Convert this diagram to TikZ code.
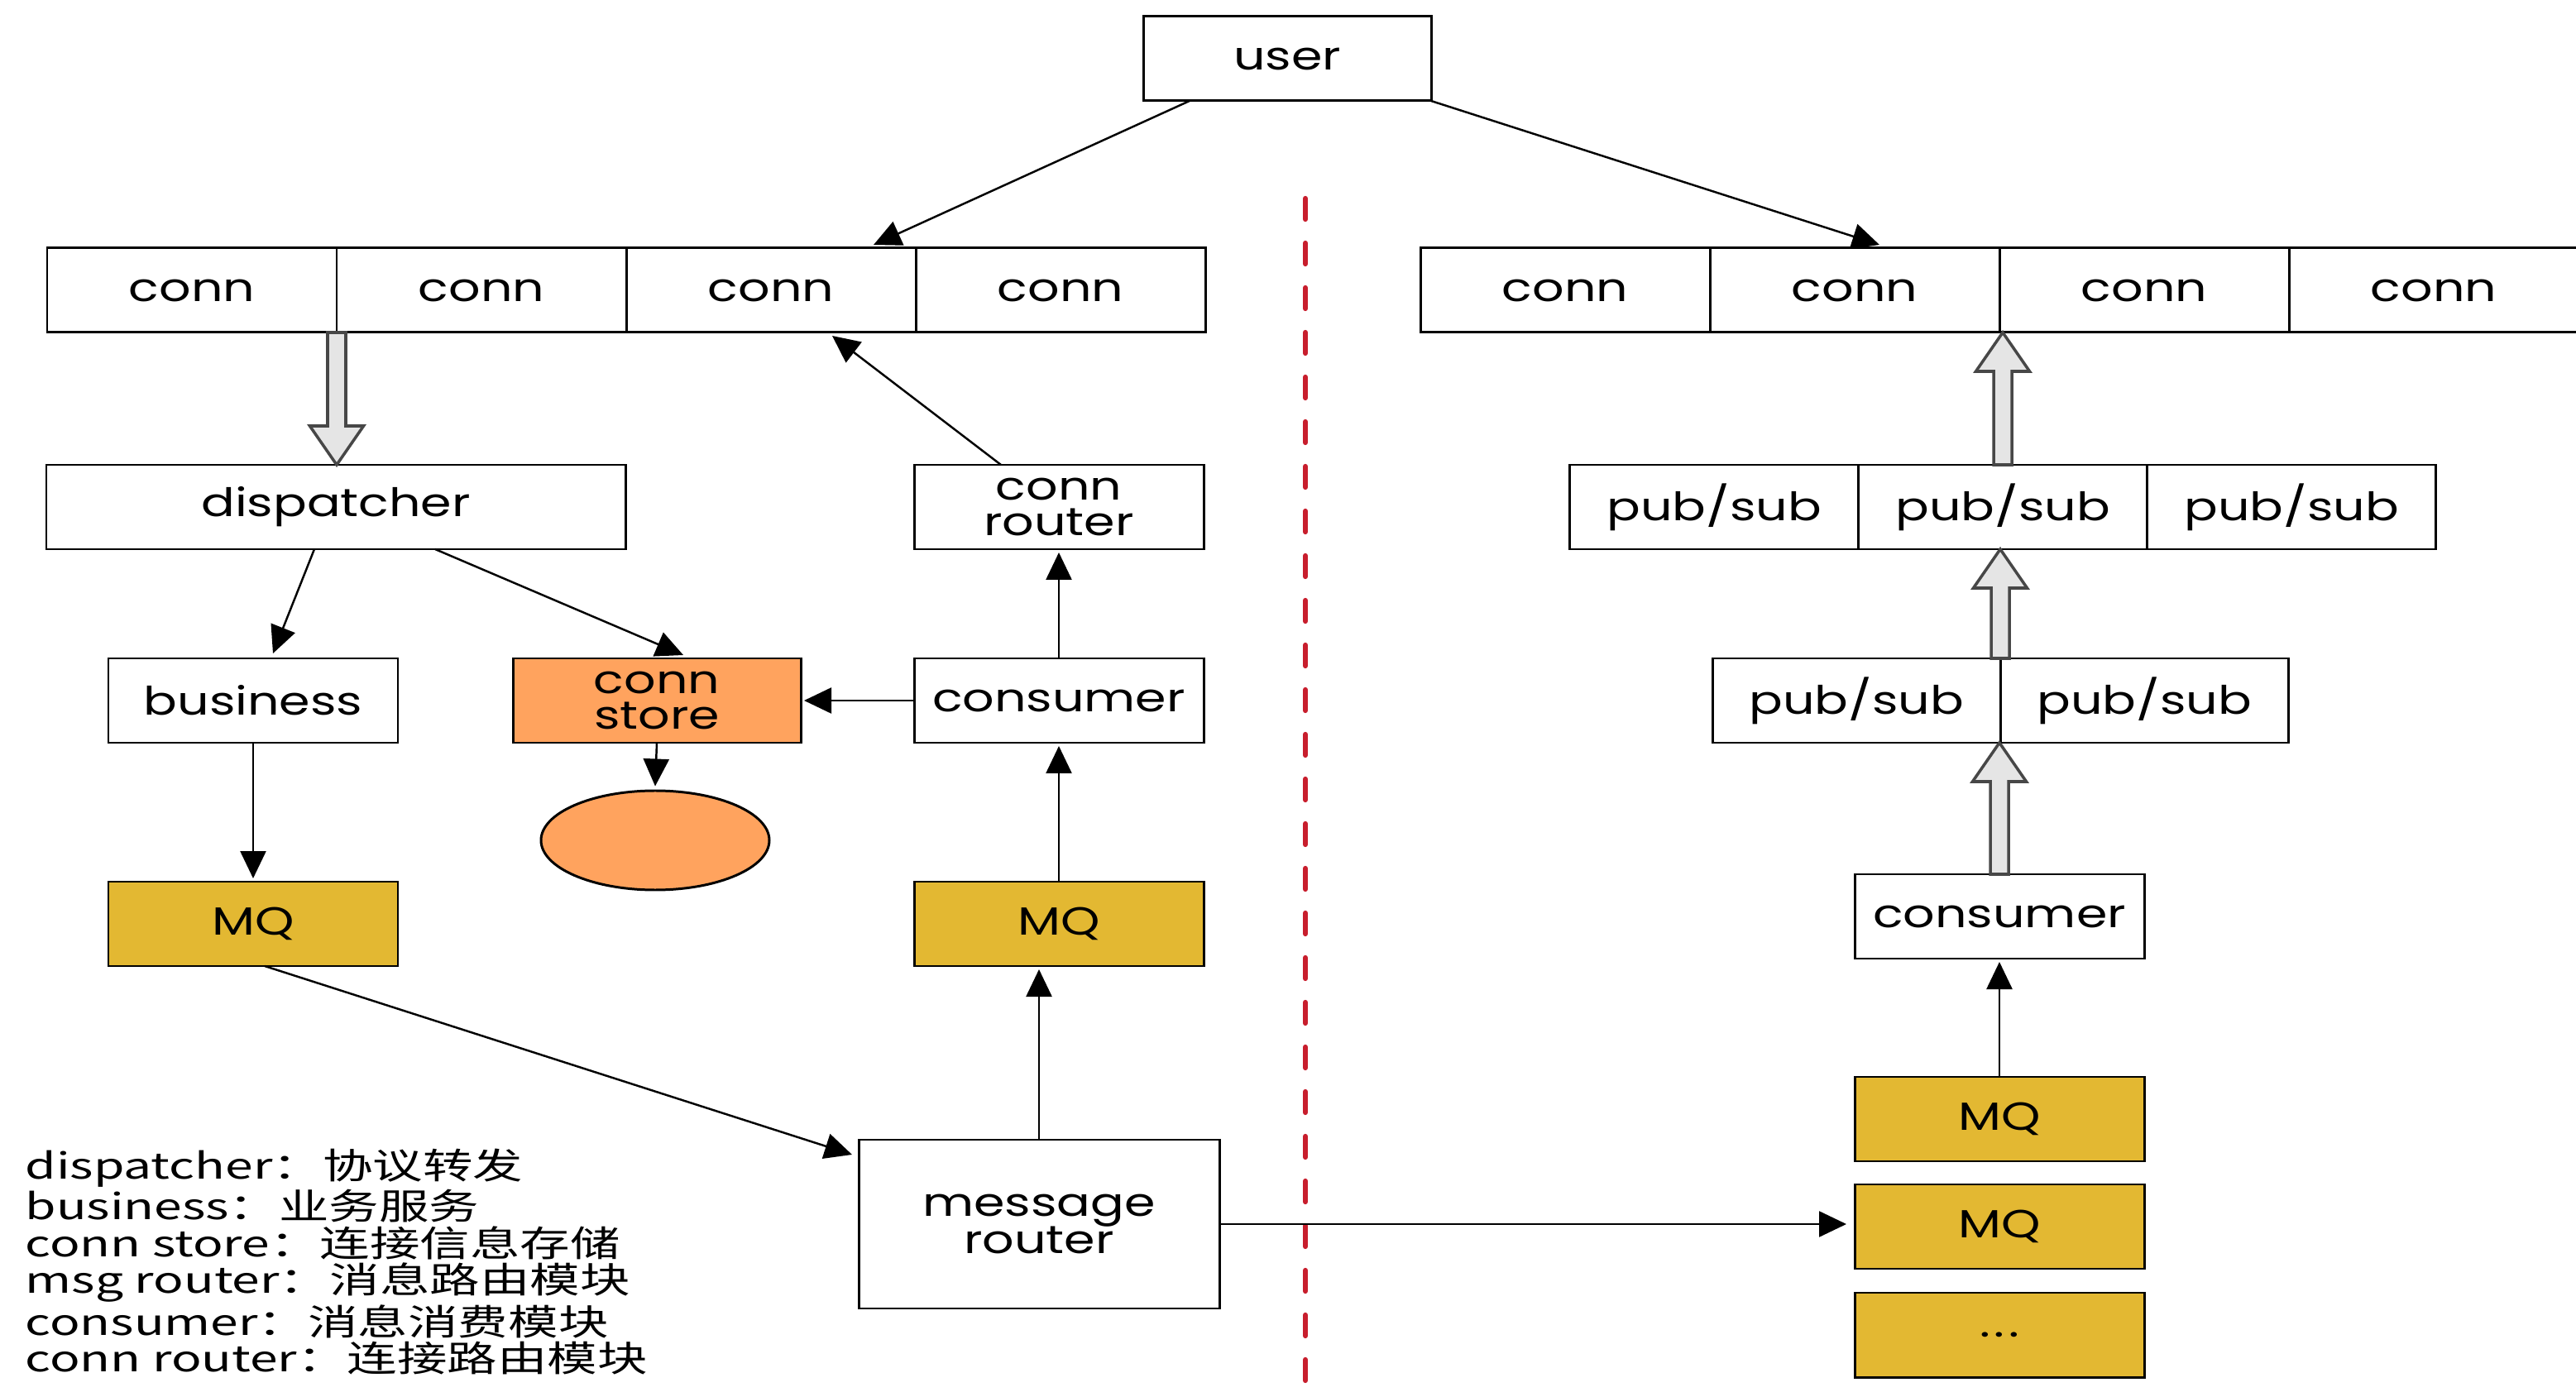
\documentclass[tikz,border=0pt]{standalone}
\usepackage{fontspec}
\setmainfont{Poppins}[FakeStretch=1.27]
\newfontfamily\cjk{Noto Sans CJK SC}[FakeStretch=1.4]
\usetikzlibrary{positioning,shapes,arrows.meta,calc}
\definecolor{mqgold}{RGB}{227,184,50}
\definecolor{storeorange}{RGB}{255,163,94}
\definecolor{splitred}{RGB}{200,30,45}
\tikzstyle{block} = [draw, line width=0.85pt, minimum width=3.5cm, minimum height=1.02cm, inner sep=0pt, outer sep=0pt, align=center, font=\fontsize{13.5}{12.5}\selectfont]
\tikzstyle{mq} = [block, fill=mqgold]
\tikzstyle{link} = [draw, line width=0.7pt, -{Triangle[length=0.33cm,width=0.31cm]}]
\tikzstyle{hollow} = [draw=black!72, fill=black!10, line width=1pt, line join=miter]
\newcommand{\fatarrow}[2]{%
  \draw[hollow] let \p1=(#1), \p2=(#2), \n1={\y2-sign(\y2-\y1)*0.47cm} in
    ({\x1-0.11cm},\y1) -- ({\x1-0.11cm},\n1) -- ({\x1-0.325cm},\n1) -- (\x1,\y2)
    -- ({\x1+0.325cm},\n1) -- ({\x1+0.11cm},\n1) -- ({\x1+0.11cm},\y1) -- cycle;}
\begin{document}
\begin{tikzpicture}
        \useasboundingbox (0,0) rectangle (31.14,16.82);
        %Blocks
        \node [block, minimum width=3.48cm] (user) at (15.56,16.11) {user};
        \node [block] (lc1) at (2.32,13.31) {conn};
        \node [block, right = 0cm of lc1] (lc2) {conn};
        \node [block, right = 0cm of lc2] (lc3) {conn};
        \node [block, right = 0cm of lc3] (lc4) {conn};
        \node [block] (rc1) at (18.92,13.31) {conn};
        \node [block, right = 0cm of rc1] (rc2) {conn};
        \node [block, right = 0cm of rc2] (rc3) {conn};
        \node [block, right = 0cm of rc3] (rc4) {conn};
        \node [block, minimum width=7cm] (dispatcher) at (4.06,10.69) {dispatcher};
        \node [block] (connrouter) at (12.8,10.69) {conn\\router};
        \node [block] (business) at (3.06,8.35) {business};
        \node [block, fill=storeorange, minimum width=3.48cm] (connstore) at (7.94,8.35) {conn\\store};
        \node [block] (consumerL) at (12.8,8.35) {consumer};
        \node [draw, line width=0.85pt, ellipse, fill=storeorange, minimum width=2.76cm, minimum height=1.2cm] (db) at (7.92,6.66) {};
        \node [mq] (mqL) at (3.06,5.65) {MQ};
        \node [mq] (mqM) at (12.8,5.65) {MQ};
        \node [block, minimum width=4.36cm, minimum height=2.04cm, font=\fontsize{13.5}{13}\selectfont] (msgrouter) at (12.56,2.02) {message\\router};
        \node [block, minimum width=3.49cm] (pa1) at (20.72,10.69) {pub/sub};
        \node [block, minimum width=3.49cm, right = 0cm of pa1] (pa2) {pub/sub};
        \node [block, minimum width=3.49cm, right = 0cm of pa2] (pa3) {pub/sub};
        \node [block, minimum width=3.48cm] (pb1) at (22.44,8.35) {pub/sub};
        \node [block, minimum width=3.48cm, right = 0cm of pb1] (pb2) {pub/sub};
        \node [block] (consumerR) at (24.17,5.74) {consumer};
        \node [mq] (mqR1) at (24.17,3.29) {MQ};
        \node [mq] (mqR2) at (24.17,1.99) {MQ};
        \node [mq] (mqR3) at (24.17,0.68) {.\hspace{0.05cm}.\hspace{0.05cm}.};
        \node [anchor=north west, inner sep=0pt, align=left, font=\cjk\fontsize{12.3}{12.6}\selectfont] (legend) at (0.3,2.94)
            {dispatcher：协议转发\\business：业务服务\\conn store：连接信息存储\\msg router：消息路由模块\\consumer：消息消费模块\\conn router：连接路由模块};
        %Divider
        \draw[splitred, line width=1.8pt, line cap=round, dash pattern=on 0.25cm off 0.29cm] (15.78,14.42) -- (15.78,0);
        %Arrows
        \draw[link] ([xshift=-1.18cm]user.south) -- ([xshift=1.24cm,yshift=0.04cm]lc3.north);
        \draw[link] (user.south east) -- ([xshift=0.3cm,yshift=0.04cm]rc2.north);
        \draw[link] ([xshift=-0.7cm]connrouter.north) -- ([xshift=0.74cm,yshift=-0.04cm]lc3.south);
        \draw[link] ([xshift=-0.26cm]dispatcher.south) -- ([xshift=0.24cm,yshift=0.06cm]business.north);
        \draw[link] ([xshift=1.2cm]dispatcher.south) -- ([xshift=0.32cm,yshift=0.04cm]connstore.north);
        \draw[link] (consumerL.west) -- ([xshift=0.04cm]connstore.east);
        \draw[link] (connstore.south) -- ([yshift=0.04cm]db.north);
        \draw[link] (consumerL.north) -- ([yshift=-0.04cm]connrouter.south);
        \draw[link] (mqM.north) -- ([yshift=-0.04cm]consumerL.south);
        \draw[link] (business.south) -- ([yshift=0.04cm]mqL.north);
        \draw[link] ([xshift=0.14cm]mqL.south) -- ([xshift=-0.08cm,yshift=-0.18cm]msgrouter.north west);
        \draw[link] (msgrouter.north) -- ([yshift=-0.04cm]msgrouter.north |- mqM.south);
        \draw[link] (msgrouter.east) -- ([xshift=-0.1cm]msgrouter.east -| mqR2.west);
        \draw[link] (mqR1.north) -- ([yshift=-0.04cm]consumerR.south);
        \fatarrow{lc1.south east}{dispatcher.north}
        \fatarrow{consumerR.north}{pb1.south east}
        \fatarrow{pb1.north east}{pa2.south}
        \fatarrow{pa2.north}{rc2.south east}
\end{tikzpicture}
\end{document}
